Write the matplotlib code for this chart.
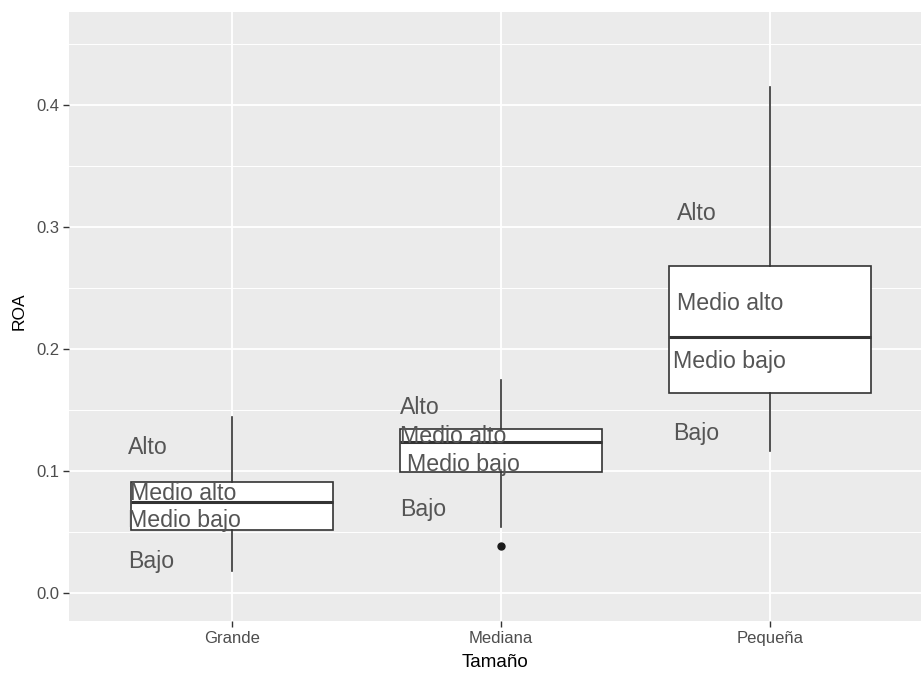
import numpy as np
import matplotlib
matplotlib.use("Agg")
import matplotlib.pyplot as plt
from matplotlib.ticker import MultipleLocator

plt.rcParams['font.family'] = ['Liberation Sans', 'DejaVu Sans']

# ROA by company size: box statistics per group
tamanos = ["Grande", "Mediana", "Pequeña"]
whisker_low = [0.018, 0.054, 0.116]
q1 = [0.0516, 0.0992, 0.164]
median = [0.0746, 0.1238, 0.2098]
q3 = [0.091, 0.1344, 0.268]
whisker_high = [0.1443, 0.1746, 0.4148]
outliers = [[], [0.0385], []]

# category labels written inside each group
etiquetas = ["Alto", "Medio alto", "Medio bajo", "Bajo"]
etiq_x = [
    [0.613, 0.621, 0.613, 0.613],
    [1.625, 1.625, 1.651, 1.625],
    [2.654, 2.654, 2.639, 2.639],
]
etiq_y = [
    [0.119, 0.0815, 0.059, 0.0255],
    [0.1515, 0.1285, 0.1055, 0.068],
    [0.3105, 0.237, 0.1895, 0.1305],
]

stats = []
for i, t in enumerate(tamanos):
    stats.append(dict(label=t, whislo=whisker_low[i], q1=q1[i], med=median[i],
                      q3=q3[i], whishi=whisker_high[i], fliers=outliers[i]))

fig = plt.figure(figsize=(9.21, 6.73), dpi=100)
ax = fig.add_axes([0.0749, 0.0773, 0.9251, 0.905])
ax.set_facecolor("#EBEBEB")

pos = np.arange(1, len(tamanos) + 1)
ax.bxp(stats, positions=pos, widths=0.75, patch_artist=True, showcaps=False,
       boxprops=dict(facecolor="white", edgecolor="#333333", linewidth=1.2),
       medianprops=dict(color="#333333", linewidth=2.2),
       whiskerprops=dict(color="#333333", linewidth=1.2),
       flierprops=dict(marker="o", markerfacecolor="#1a1a1a",
                       markeredgecolor="#1a1a1a", markersize=5),
       zorder=3)

for i in range(len(tamanos)):
    for j, txt in enumerate(etiquetas):
        ax.text(etiq_x[i][j], etiq_y[i][j], txt, ha="left", va="center",
                fontsize=16.7, color="#555555", zorder=4)

ax.set_xlim(0.394, 3.56)
ax.set_ylim(-0.023, 0.476)
ax.yaxis.set_major_locator(MultipleLocator(0.1))
ax.yaxis.set_minor_locator(MultipleLocator(0.05))
ax.set_xticks(pos)
ax.set_xticklabels(tamanos)
ax.grid(which="major", color="white", linewidth=1.3, zorder=0)
ax.grid(which="minor", axis="y", color="white", linewidth=0.7, zorder=0)
ax.set_axisbelow(True)
for s in ax.spines.values():
    s.set_visible(False)

ax.tick_params(axis="both", which="major", colors="#333333", length=4,
               width=1, labelsize=12, labelcolor="#4D4D4D", pad=3)
ax.tick_params(axis="both", which="minor", length=0)
ax.set_xlabel("Tamaño", fontsize=13.5, color="black", labelpad=6)
ax.set_ylabel("ROA", fontsize=12.5, color="black")
ax.yaxis.set_label_coords(-0.0493, 0.509)

fig.savefig("out.png", dpi=100, facecolor="white")
